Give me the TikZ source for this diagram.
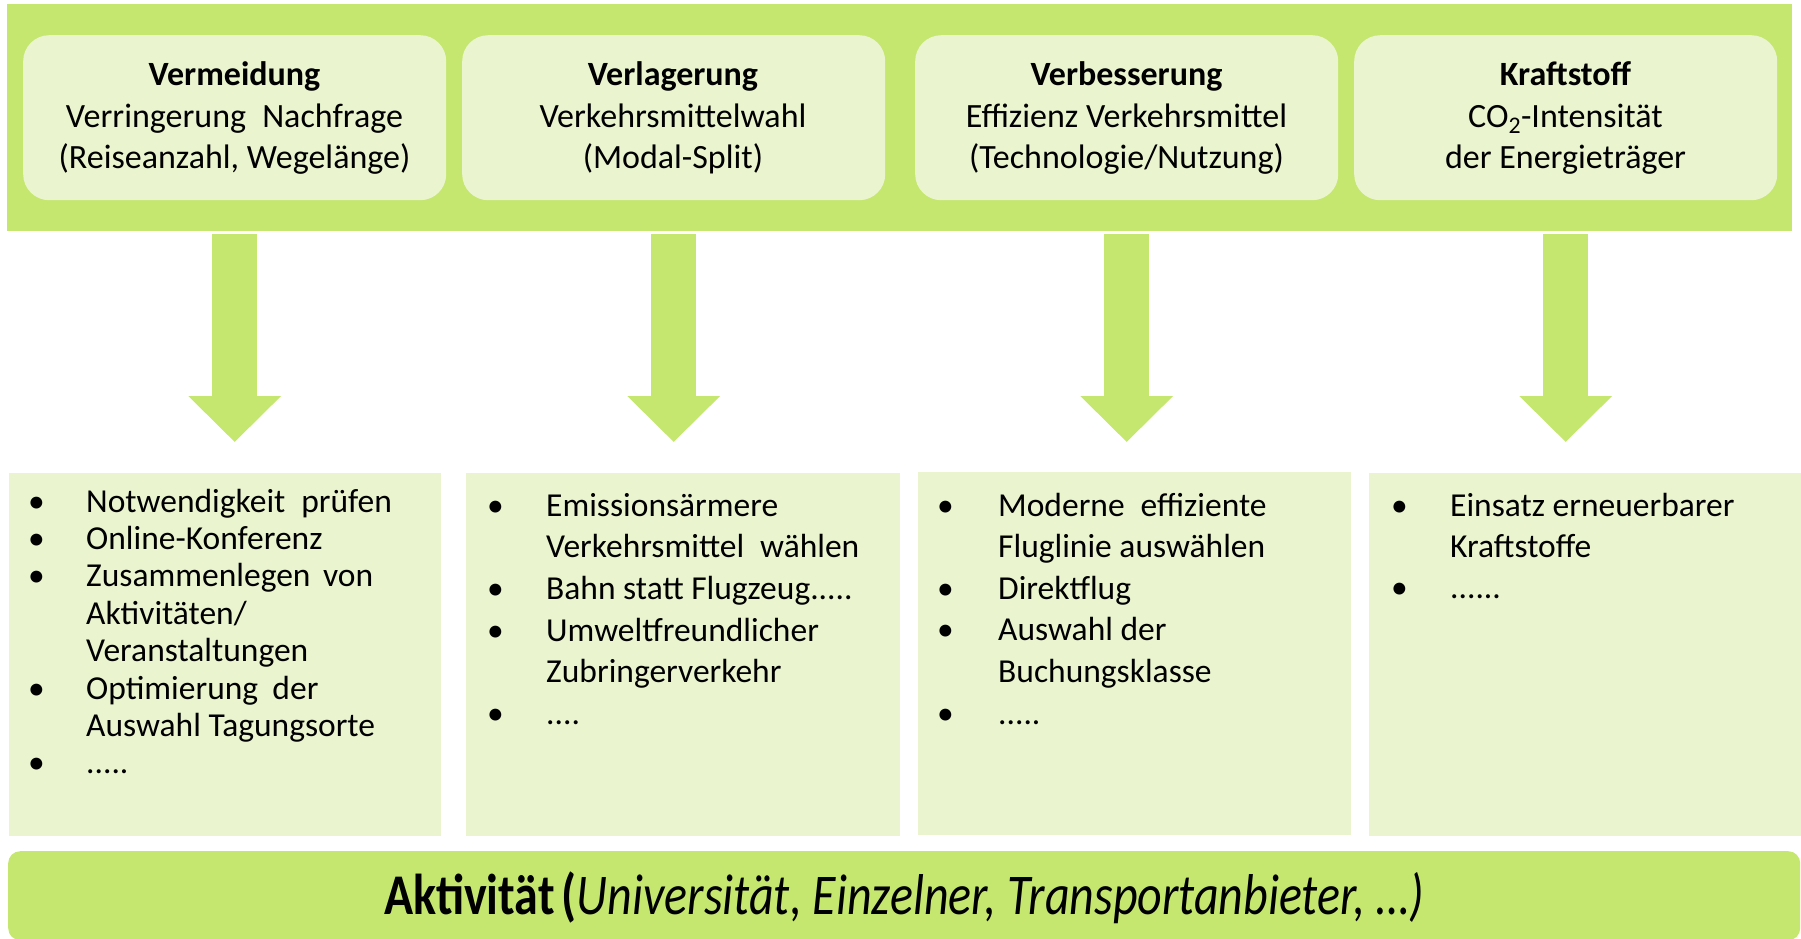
\documentclass[tikz,border=0pt]{standalone}
\usepackage{fontspec}
\setmainfont{Carlito}
\usetikzlibrary{arrows.meta,calc}
\definecolor{dgreen}{RGB}{197,231,111}
\definecolor{lgreen}{RGB}{234,245,208}
\newcommand\bulA[1]{\makebox[#1][l]{•}}
\tikzset{
  band/.style={fill=dgreen, draw=none, inner sep=0pt, anchor=north west},
  topbox/.style={fill=lgreen, draw=none, rounded corners=26pt, inner sep=0pt, anchor=north west, minimum width=423pt, minimum height=165pt},
  lowbox/.style={fill=lgreen, draw=none, inner sep=0pt, anchor=north west},
  bigarrow/.style={draw=dgreen, line width=45pt, -{Triangle[width=90pt,length=46pt]}},
  toptxt/.style={anchor=base, inner sep=0pt, font=\fontsize{34}{41.5}\selectfont},
  listtxt/.style={anchor=base west, inner sep=0pt},
}
\begin{document}
\begin{tikzpicture}[x=1pt,y=-1pt]
\useasboundingbox (0,0) rectangle (1801,938);
\fill[white] (0,0) rectangle (1801,938);
% top band and boxes
\node[band, minimum width=1785pt, minimum height=227pt] (band) at (7,4) {};
\node[topbox] (b1) at (23,35) {};
\node[topbox] (b2) at (462,35) {};
\node[topbox] (b3) at (915,35) {};
\node[topbox] (b4) at (1354,35) {};
\node[toptxt] (t1) at (234.5,85.5) {\parbox[t]{420pt}{\centering\textbf{Vermeidung}\\Verringerung\hspace{0.25em} Nachfrage\\(Reiseanzahl, Wegelänge)}};
\node[toptxt] (t2) at (673,85.5) {\parbox[t]{420pt}{\centering\textbf{Verlagerung}\\Verkehrsmittelwahl\\(Modal-Split)}};
\node[toptxt] (t3) at (1126.5,85.5) {\parbox[t]{420pt}{\centering\textbf{Verbesserung}\\Effizienz Verkehrsmittel\\(Technologie/Nutzung)}};
\node[toptxt] (t4) at (1565.5,85.5) {\parbox[t]{420pt}{\centering\textbf{Kraftstoff}\\CO\textsubscript{2}-Intensität\\der Energieträger}};
% lower boxes
\node[lowbox, minimum width=432pt, minimum height=363pt] (c1) at (9,473) {};
\node[lowbox, minimum width=434pt, minimum height=363pt] (c2) at (466,473) {};
\node[lowbox, minimum width=433pt, minimum height=363pt] (c3) at (918,472) {};
\node[lowbox, minimum width=432pt, minimum height=363pt] (c4) at (1369,473) {};
% arrows
\coordinate (a1s) at ($(b1.south)+(0,34)$);
\coordinate (a1e) at ($(b1.south |- c1.north)+(0,-31)$);
\coordinate (a2s) at ($(b2.south)+(0,34)$);
\coordinate (a2e) at ($(b2.south |- c2.north)+(0,-31)$);
\coordinate (a3s) at ($(b3.south)+(0,34)$);
\coordinate (a3e) at ($(b3.south |- c3.north)+(0,-30)$);
\coordinate (a4s) at ($(b4.south)+(0,34)$);
\coordinate (a4e) at ($(b4.south |- c4.north)+(0,-31)$);
\draw[bigarrow] (a1s) -- (a1e);
\draw[bigarrow] (a2s) -- (a2e);
\draw[bigarrow] (a3s) -- (a3e);
\draw[bigarrow] (a4s) -- (a4e);
% list texts
\node[listtxt, font=\fontsize{33.5}{37.4}\selectfont] (l1) at (28,512) {\parbox[t]{420pt}{\raggedright
\bulA{58pt}Notwendigkeit\hspace{0.25em} prüfen\\
\bulA{58pt}Online-Konferenz\\
\bulA{58pt}Zusammenlegen\hspace{0.15em} von\\
\hspace*{58pt}Aktivitäten/\\
\hspace*{58pt}Veranstaltungen\\
\bulA{58pt}Optimierung\hspace{0.2em} der\\
\hspace*{58pt}Auswahl Tagungsorte\\
\bulA{58pt}.....}};
\node[listtxt, font=\fontsize{33.5}{41.7}\selectfont] (l2) at (487,516) {\parbox[t]{420pt}{\raggedright
\bulA{59pt}Emissionsärmere\\
\hspace*{59pt}Verkehrsmittel\hspace{0.25em} wählen\\
\bulA{59pt}Bahn statt Flugzeug.....\\
\bulA{59pt}Umweltfreundlicher\\
\hspace*{59pt}Zubringerverkehr\\
\bulA{59pt}....}};
\node[listtxt, font=\fontsize{33.5}{41.6}\selectfont] (l3) at (937,516) {\parbox[t]{420pt}{\raggedright
\bulA{61pt}Moderne\hspace{0.25em} effiziente\\
\hspace*{61pt}Fluglinie auswählen\\
\bulA{61pt}Direktflug\\
\bulA{61pt}Auswahl der\\
\hspace*{61pt}Buchungsklasse\\
\bulA{61pt}.....}};
\node[listtxt, font=\fontsize{33.5}{41}\selectfont] (l4) at (1391,516) {\parbox[t]{400pt}{\raggedright
\bulA{59pt}Einsatz erneuerbarer\\
\hspace*{59pt}Kraftstoffe\\
\bulA{59pt}......}};
% bottom bar
\node[fill=dgreen, draw=none, rounded corners=12pt, inner sep=0pt, anchor=north west, minimum width=1792pt, minimum height=89pt] (bar) at (8,851) {};
\node[anchor=base, inner sep=0pt, font=\fontsize{48}{50}\selectfont] (act) at (904,914) {\scalebox{1}[1.2]{\textbf{Aktivität\hspace{0.15em}(}\textit{Universität, Einzelner, Transportanbieter, …)}}};
\end{tikzpicture}
\end{document}
